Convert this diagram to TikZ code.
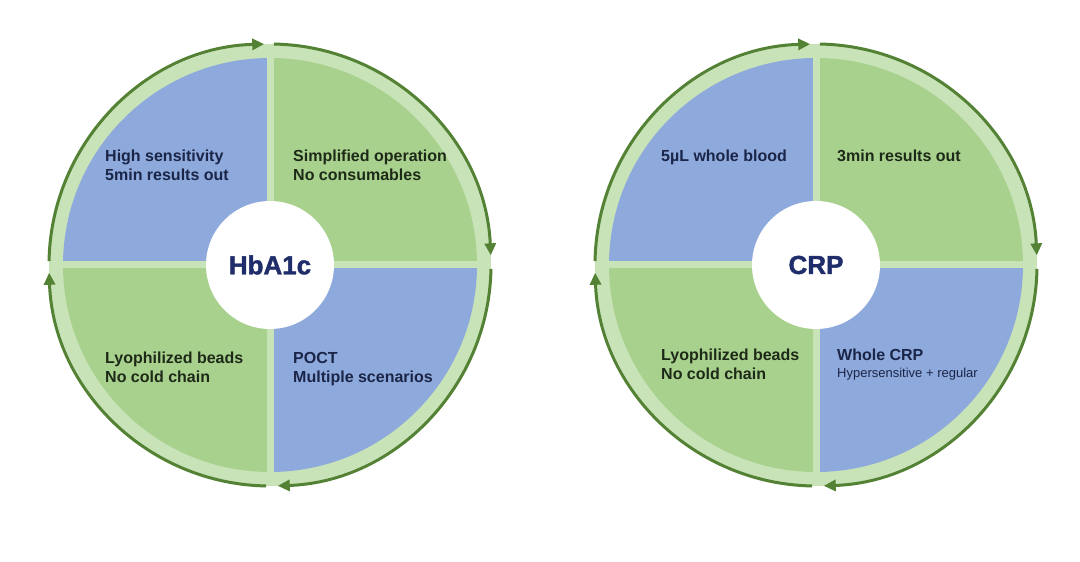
\documentclass[tikz,border=0pt]{standalone}
\usepackage{fontspec}
\setmainfont{Liberation Sans}
\newfontfamily\hubfont{Liberation Sans}[BoldFeatures={FakeBold=1.6}]
\usetikzlibrary{arrows.meta}
\definecolor{qblue}{HTML}{8EA9DB}
\definecolor{qgreen}{HTML}{A9D18E}
\definecolor{ringgreen}{HTML}{C9E3B8}
\definecolor{darkgreen}{HTML}{548235}
\definecolor{hubtext}{HTML}{1F2D6B}
\definecolor{bluetext}{HTML}{1A2548}
\definecolor{greentext}{HTML}{1E2A18}
\tikzset{
  qtext/.style={font=\bfseries\fontsize{16}{19}\selectfont, anchor=base west, inner sep=0pt},
  qsmall/.style={font=\fontsize{13}{15}\selectfont, anchor=base west, inner sep=0pt},
  hub/.style={circle, fill=white, minimum size=128pt, inner sep=0pt, text=hubtext,
    font=\hubfont\bfseries\fontsize{26}{30}\selectfont},
  cyc/.style={draw=darkgreen, line width=3pt, -{Triangle[length=12pt,width=11pt]}}
}
\begin{document}
\begin{tikzpicture}[x=1pt,y=1pt]
\useasboundingbox (0,0) rectangle (1080,562);
\fill[white] (0,0) rectangle (1080,562);

% ---------- Left wheel: HbA1c ----------
\begin{scope}[shift={(270,297)}]
  \fill[ringgreen] (0,0) circle (221);
  \begin{scope}
    \clip (0,0) circle (207);
    \fill[qblue]  (-230,3.5) rectangle (-3.5,230);
    \fill[qgreen] (3.5,3.5) rectangle (230,230);
    \fill[qgreen] (-230,-3.5) rectangle (-3.5,-230);
    \fill[qblue]  (3.5,-3.5) rectangle (230,-230);
  \end{scope}
  \node[hub] (hA) at (0,0) {HbA1c};
  \coordinate (As1) at (179:221);
  \coordinate (As2) at (89:221);
  \coordinate (As3) at (-1:221);
  \coordinate (As4) at (-91:221);
  \draw[cyc] (As1) arc[start angle=179, end angle=91.5, radius=221];
  \draw[cyc] (As2) arc[start angle=89, end angle=2.5, radius=221];
  \draw[cyc] (As3) arc[start angle=-1, end angle=-88, radius=221];
  \draw[cyc] (As4) arc[start angle=-91, end angle=-178, radius=221];
  \node[qtext, text=bluetext] (A1a) at (-165,103.5) {High sensitivity};
  \node[qtext, text=bluetext] (A1b) at (-165,84.5) {5min results out};
  \node[qtext, text=greentext] (A2a) at (23,103.5) {Simplified operation};
  \node[qtext, text=greentext] (A2b) at (23,84.5) {No consumables};
  \node[qtext, text=greentext] (A3a) at (-165,-99) {Lyophilized beads};
  \node[qtext, text=greentext] (A3b) at (-165,-118) {No cold chain};
  \node[qtext, text=bluetext] (A4a) at (23,-99) {POCT};
  \node[qtext, text=bluetext] (A4b) at (23,-118) {Multiple scenarios};
\end{scope}

% ---------- Right wheel: CRP ----------
\begin{scope}[shift={(816,297)}]
  \fill[ringgreen] (0,0) circle (221);
  \begin{scope}
    \clip (0,0) circle (207);
    \fill[qblue]  (-230,3.5) rectangle (-3.5,230);
    \fill[qgreen] (3.5,3.5) rectangle (230,230);
    \fill[qgreen] (-230,-3.5) rectangle (-3.5,-230);
    \fill[qblue]  (3.5,-3.5) rectangle (230,-230);
  \end{scope}
  \node[hub] (hB) at (0,0) {CRP};
  \coordinate (Bs1) at (179:221);
  \coordinate (Bs2) at (89:221);
  \coordinate (Bs3) at (-1:221);
  \coordinate (Bs4) at (-91:221);
  \draw[cyc] (Bs1) arc[start angle=179, end angle=91.5, radius=221];
  \draw[cyc] (Bs2) arc[start angle=89, end angle=2.5, radius=221];
  \draw[cyc] (Bs3) arc[start angle=-1, end angle=-88, radius=221];
  \draw[cyc] (Bs4) arc[start angle=-91, end angle=-178, radius=221];
  \node[qtext, text=bluetext] (B1a) at (-155,103.5) {5µL whole blood};
  \node[qtext, text=greentext] (B2a) at (21,103.5) {3min results out};
  \node[qtext, text=greentext] (B3a) at (-155,-96) {Lyophilized beads};
  \node[qtext, text=greentext] (B3b) at (-155,-115) {No cold chain};
  \node[qtext, text=bluetext] (B4a) at (21,-96) {Whole CRP};
  \node[qsmall, text=bluetext] (B4b) at (21,-113) {Hypersensitive + regular};
\end{scope}
\end{tikzpicture}
\end{document}
